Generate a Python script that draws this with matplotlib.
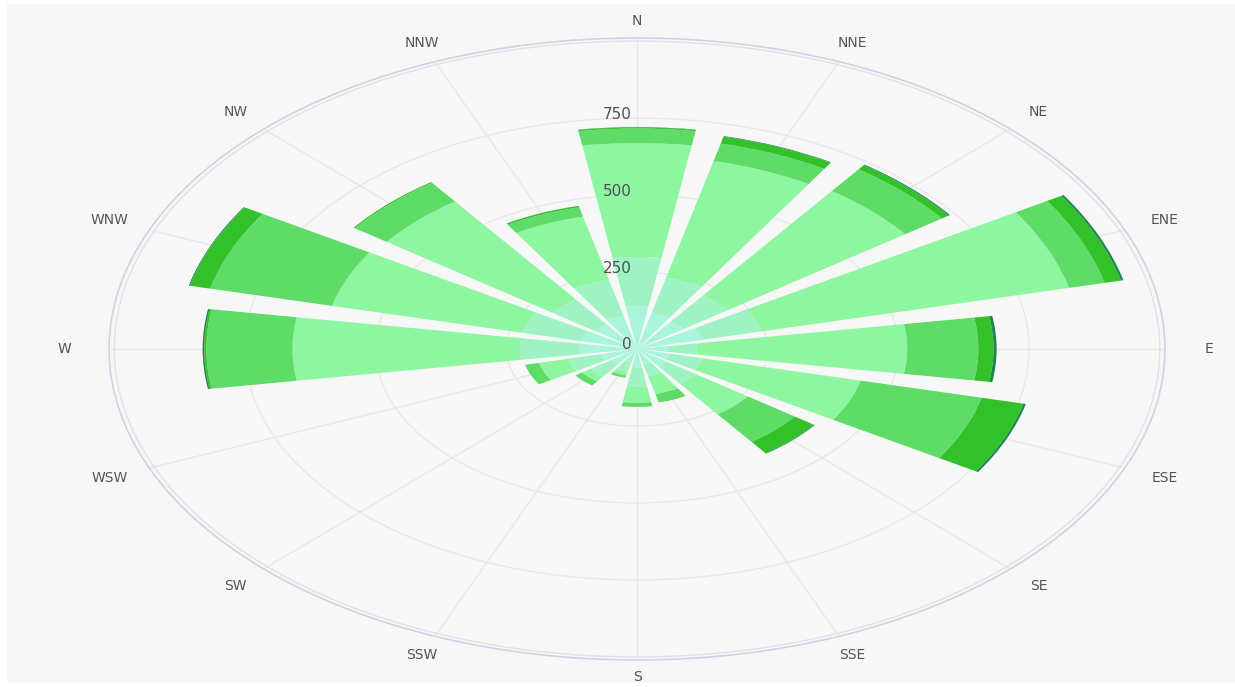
import numpy as np
import matplotlib
matplotlib.use("Agg")
import matplotlib.pyplot as plt
import matplotlib.transforms as mtransforms
from matplotlib.patches import Rectangle

directions = ['N', 'NNE', 'NE', 'ENE', 'E', 'ESE', 'SE', 'SSE',
              'S', 'SSW', 'SW', 'WSW', 'W', 'WNW', 'NW', 'NNW']

# frequency per speed bin (innermost bin first), one value per direction
bin1 = [140, 120, 110, 130, 60, 65, 70, 50, 60, 45, 60, 70, 110, 110, 100, 110]
bin2 = [159, 117, 105, 115, 55, 64, 70, 40, 63, 30, 50, 65, 114, 115, 100, 120]
bin3 = [370, 391, 419, 605, 402, 311, 122, 60, 52, 13, 20, 58, 435, 375, 392, 212]
bin4 = [47, 58, 87, 70, 136, 238, 111, 26, 13, 8, 16, 27, 165, 240, 75, 31]
bin5 = [4, 23, 16, 32, 29, 82, 45, 2, 0, 0, 0, 0, 4, 40, 3, 5]
bin6 = [1, 2, 3, 5, 6, 5, 2, 0, 0, 0, 0, 0, 3, 2, 0, 0]
bins = [bin1, bin2, bin3, bin4, bin5, bin6]

colors = ['#a9f5dc', '#9ef2c4', '#8ef5a0', '#5fdb68', '#33c12a', '#1d8a4c']
r_ticks = [0, 250, 500, 750]
r_max = 1010

fig = plt.figure(figsize=(12.35, 6.87), dpi=100)
fig.patch.set_facecolor('white')
fig.add_artist(Rectangle((7 / 1235, 4 / 687), 1228 / 1235, 679 / 687,
                         transform=fig.transFigure, facecolor='#f7f7f7',
                         edgecolor='none', zorder=-10))

ax = fig.add_axes([0.0883, 0.0393, 0.855, 0.9054], projection='polar')
ax.set_aspect('auto')
ax.set_facecolor('none')
ax.set_theta_zero_location('N')
ax.set_theta_direction(-1)

theta = np.deg2rad(np.arange(len(directions)) * 360.0 / len(directions))
width = np.deg2rad(18)

bottom = np.zeros(len(directions))
for vals, c in zip(bins, colors):
    vals = np.array(vals, dtype=float)
    ax.bar(theta, vals, width=width, bottom=bottom, color=c,
           edgecolor='none', zorder=2)
    bottom += vals

ax.set_ylim(0, r_max)
ax.set_axisbelow(True)
ax.set_xticks(theta)
ax.set_xticklabels([])
ax.set_yticks(r_ticks[1:] + [1000])
ax.set_yticklabels([])
ax.tick_params(length=0)
ax.xaxis.grid(True, color='#e8e8e8', linewidth=1)
ax.yaxis.grid(True, color='#e8e8e8', linewidth=1)
ax.yaxis.get_gridlines()[-1].set_color('#e0e0ec')
ax.spines['polar'].set_color('#d2d2e2')
ax.spines['polar'].set_linewidth(1.2)

# compass labels outside the ring
for t, d in zip(theta, directions):
    ax.text(t, 1065 + 30 * abs(np.sin(t)), d, ha='center', va='center',
            fontsize=10, color='#555555', clip_on=False)

# radial labels along the north axis
off = mtransforms.offset_copy(ax.transData, fig=fig, x=-5, y=4, units='dots')
for r in r_ticks:
    ax.text(0, r, str(r), transform=off, ha='right', va='center',
            fontsize=11, color='#505050', zorder=5, clip_on=False)

fig.savefig('out.png', dpi=100, facecolor=fig.get_facecolor())
